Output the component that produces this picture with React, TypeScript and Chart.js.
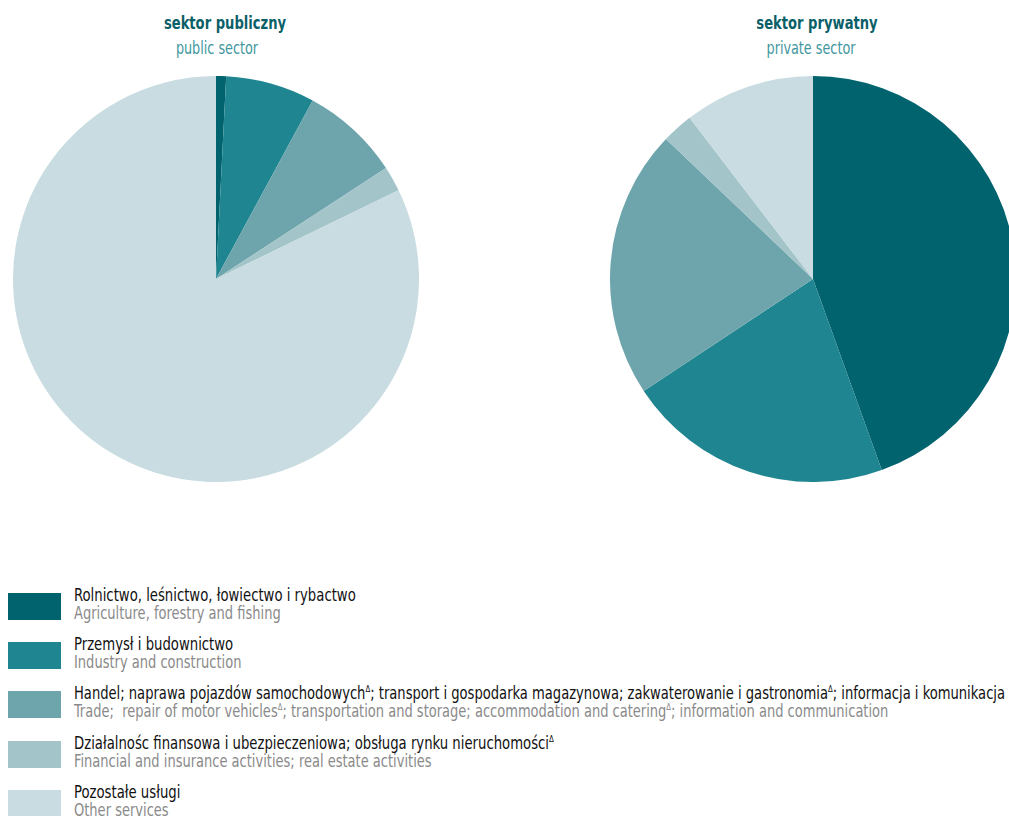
import React, { useEffect, useRef } from "react";
import { Chart, registerables } from "chart.js";

Chart.register(...registerables);

const categoriesPl = [
  "Rolnictwo, leśnictwo, łowiectwo i rybactwo",
  "Przemysł i budownictwo",
  "Handel; naprawa pojazdów samochodowych^; transport i gospodarka magazynowa; zakwaterowanie i gastronomia^; informacja i komunikacja",
  "Działalnośc finansowa i ubezpieczeniowa; obsługa rynku nieruchomości^",
  "Pozostałe usługi",
];
const categoriesEn = [
  "Agriculture, forestry and fishing",
  "Industry and construction",
  "Trade;  repair of motor vehicles^; transportation and storage; accommodation and catering^; information and communication",
  "Financial and insurance activities; real estate activities",
  "Other services",
];
const colors = ["#01636e", "#1f8590", "#6ea5ad", "#a3c5ca", "#c8dce1"];
const publicValues = [0.8, 7.1, 7.9, 2.0, 82.2];
const privateValues = [44.5, 21.2, 21.4, 2.5, 10.4];

const FONT = "'DejaVu Sans Condensed', 'DejaVu Sans', sans-serif";

function Pie({ values, left }: { values: number[]; left: number }) {
  const ref = useRef<HTMLCanvasElement>(null);
  useEffect(() => {
    const chart = new Chart(ref.current!, {
      type: "pie",
      data: {
        labels: categoriesEn,
        datasets: [
          {
            data: values,
            backgroundColor: colors,
            borderWidth: 0,
          },
        ],
      },
      options: {
        responsive: false,
        animation: false,
        plugins: { legend: { display: false }, tooltip: { enabled: false } },
        layout: { padding: 0 },
      },
    });
    return () => chart.destroy();
  }, []);
  return (
    <canvas
      ref={ref}
      width={406}
      height={406}
      style={{ position: "absolute", left, top: 76, width: 406, height: 406 }}
    />
  );
}

function Txt({ s }: { s: string }) {
  const parts = s.split("^");
  return (
    <>
      {parts.map((p, i) => (
        <React.Fragment key={i}>
          {p}
          {i < parts.length - 1 && (
            <sup style={{ fontSize: 9, verticalAlign: "top", lineHeight: "10px", position: "relative", top: -1 }}>Δ</sup>
          )}
        </React.Fragment>
      ))}
    </>
  );
}

const legendTops = [593, 642, 691, 741, 790];

export default function App() {
  return (
    <div
      style={{
        position: "fixed",
        left: 0,
        top: 0,
        width: 1009,
        height: 816,
        overflow: "hidden",
        background: "#fff",
        fontFamily: FONT,
      }}
    >
      {[
        { tx: 225, sx: 217, t: "sektor publiczny", s: "public sector" },
        { tx: 817, sx: 811, t: "sektor prywatny", s: "private sector" },
      ].map((h, i) => (
        <React.Fragment key={i}>
          <div style={{ position: "absolute", left: h.tx - 150, width: 300, top: 12, textAlign: "center", fontWeight: "bold", fontSize: 18, color: "#0b5f69", lineHeight: "22px", transform: "scaleX(0.81)" }}>
            {h.t}
          </div>
          <div style={{ position: "absolute", left: h.sx - 150, width: 300, top: 37, textAlign: "center", fontSize: 18, color: "#3f97a0", lineHeight: "22px", transform: "scaleX(0.79)" }}>
            {h.s}
          </div>
        </React.Fragment>
      ))}
      <Pie values={publicValues} left={13} />
      <Pie values={privateValues} left={610} />
      {categoriesPl.map((c, i) => (
        <React.Fragment key={i}>
          <div style={{ position: "absolute", left: 8, top: legendTops[i], width: 53, height: 27, background: colors[i] }} />
          <div style={{ position: "absolute", left: 74, top: legendTops[i] - 6, fontSize: 17, lineHeight: "17px", color: "#111", whiteSpace: "pre", transform: i === 2 ? "scaleX(0.857)" : "scaleX(0.865)", transformOrigin: "left center" }}>
            <Txt s={c} />
          </div>
          <div style={{ position: "absolute", left: 74, top: legendTops[i] + 12, fontSize: 17, lineHeight: "17px", color: "#8a8a8a", whiteSpace: "pre", transform: "scaleX(0.852)", transformOrigin: "left center" }}>
            <Txt s={categoriesEn[i]} />
          </div>
        </React.Fragment>
      ))}
    </div>
  );
}
